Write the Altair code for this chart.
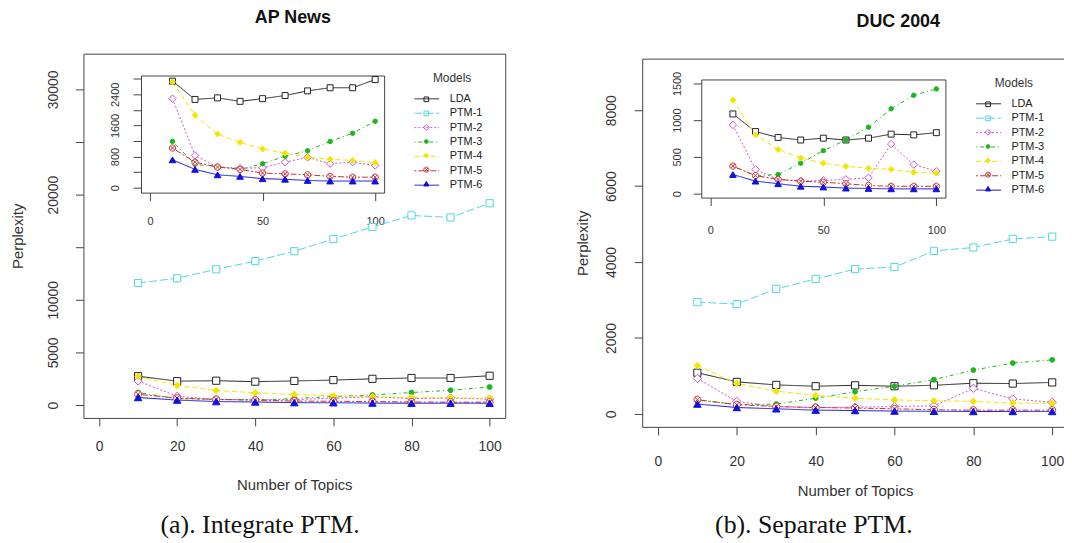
import altair as alt
import pandas as pd

TOPICS = [10, 20, 30, 40, 50, 60, 70, 80, 90, 100]
MODELS = ["LDA", "PTM-1", "PTM-2", "PTM-3", "PTM-4", "PTM-5", "PTM-6"]

# (a) AP News
AP_LDA = [2740, 2270, 2310, 2220, 2290, 2370, 2490, 2570, 2570, 2780]
AP_PTM1 = [11600, 12050, 12900, 13680, 14620, 15780, 16920, 18020, 17830, 19180]
AP_PTM2 = [2290, 830, 530, 505, 510, 655, 780, 615, 655, 570]
AP_PTM3 = [1190, 600, 540, 470, 615, 810, 950, 1190, 1400, 1710]
AP_PTM4 = [2720, 1860, 1380, 1165, 995, 885, 785, 730, 700, 645]
AP_PTM5 = [1020, 655, 530, 470, 375, 355, 330, 290, 270, 270]
AP_PTM6 = [715, 470, 330, 290, 230, 215, 185, 170, 170, 170]

# (b) DUC 2004
DUC_LDA = [1085, 845, 765, 730, 755, 730, 755, 810, 800, 830]
DUC_PTM1 = [2945, 2895, 3295, 3555, 3815, 3870, 4295, 4385, 4610, 4670]
DUC_PTM2 = [935, 330, 190, 170, 180, 195, 215, 675, 395, 305]
DUC_PTM3 = [370, 245, 260, 415, 585, 730, 905, 1155, 1340, 1425]
DUC_PTM4 = [1275, 800, 600, 485, 415, 370, 345, 330, 290, 280]
DUC_PTM5 = [375, 245, 195, 170, 155, 135, 110, 100, 100, 100]
DUC_PTM6 = [260, 170, 135, 100, 90, 75, 70, 65, 65, 65]

PANEL_TITLES = ["AP News", "DUC 2004"]
CAPTIONS = ["(a). Integrate PTM.", "(b). Separate PTM."]
X_TITLE = "Number of Topics"
Y_TITLE = "Perplexity"
LEGEND_TITLE = "Models"

COLORS = ["#222222", "#4FD8DC", "#CC55CC", "#1FB41F", "#F2E600", "#C83232", "#1010E0"]
FILLS = ["#ffffff", "#ffffff", "#ffffff", "#1FB41F", "#F2E600", "#ffffff", "#1010E0"]
CIRCLE_X = "M-1,0A1,1,0,1,1,1,0A1,1,0,1,1,-1,0ZM-0.7,-0.7L0.7,0.7M-0.7,0.7L0.7,-0.7"
SHAPES = ["square", "square", "diamond", "circle", "diamond", CIRCLE_X, "triangle-up"]
DASHES = [[1, 0], [8, 3], [2, 2], [1, 3, 4, 3], [5, 3], [2, 2, 6, 2], [1, 0]]
MAIN_SIZES = [52, 52, 70, 24, 44, 50, 56]
INSET_SIZES = [36, 36, 56, 20, 36, 40, 45]
KEY_SIZES = [22, 22, 34, 14, 24, 26, 28]
LEGEND_LINE = "M-2.5,0L2.5,0"

FONT = "Liberation Sans, Arial, sans-serif"
SERIF = "Liberation Serif, Times New Roman, serif"
W, H = 1064, 535


def make_df(series):
    rows = []
    for m, vals in zip(MODELS, series):
        for t, v in zip(TOPICS, vals):
            rows.append({"Topics": t, "Perplexity": v, "Model": m})
    return pd.DataFrame(rows)


df_a = make_df([AP_LDA, AP_PTM1, AP_PTM2, AP_PTM3, AP_PTM4, AP_PTM5, AP_PTM6])
df_b = make_df([DUC_LDA, DUC_PTM1, DUC_PTM2, DUC_PTM3, DUC_PTM4, DUC_PTM5, DUC_PTM6])
df_models = pd.DataFrame({"Model": MODELS})

# plot-box geometry (view pixels)
A_MAIN = dict(x0=76, x1=501, y0=44, y1=411, xd=[-4, 104], yd=[-1226, 33396])
A_IN = dict(x0=134, x1=379, y0=66, y1=184, xd=[-4, 104], yd=[-128, 2885])
B_MAIN = dict(x0=639, x1=1068, y0=49, y1=420, xd=[-4, 104], yd=[-340, 9359])
B_IN = dict(x0=698.5, x1=944.5, y0=70, y1=189, xd=[-4, 104], yd=[-54, 1554])

ROWPAD = 2.5
TPAD = 8
LEG_FS = 11


def sx(g):
    return alt.Scale(domain=g["xd"], range=[g["x0"], g["x1"]], nice=False, zero=False)


def sy(g):
    return alt.Scale(domain=g["yd"], range=[g["y1"], g["y0"]], nice=False, zero=False)


def line_legend(lx, ly):
    return alt.Legend(orient="none", legendX=lx, legendY=ly, title=LEGEND_TITLE,
                      symbolType=LEGEND_LINE, symbolSize=100, symbolStrokeWidth=1,
                      labelOffset=17.5, rowPadding=ROWPAD, titlePadding=TPAD, padding=0,
                      titleAnchor="middle", labelFontSize=LEG_FS, titleFontSize=12)


def lines(df, g, xaxis, yaxis, legend=None):
    return alt.Chart(df).mark_line(strokeWidth=1, opacity=1).encode(
        x=alt.X("Topics:Q", scale=sx(g), axis=xaxis),
        y=alt.Y("Perplexity:Q", scale=sy(g), axis=yaxis),
        color=alt.Color("Model:N", scale=alt.Scale(domain=MODELS, range=COLORS), legend=legend),
        strokeDash=alt.StrokeDash("Model:N", scale=alt.Scale(domain=MODELS, range=DASHES), legend=legend),
    )


def style_channels(sizes):
    return dict(
        shape=alt.Shape("Model:N", scale=alt.Scale(domain=MODELS, range=SHAPES), legend=None),
        stroke=alt.Stroke("Model:N", scale=alt.Scale(domain=MODELS, range=COLORS), legend=None),
        fill=alt.Fill("Model:N", scale=alt.Scale(domain=MODELS, range=FILLS), legend=None),
        size=alt.Size("Model:N", scale=alt.Scale(type="ordinal", domain=MODELS, range=sizes), legend=None),
    )


def points(df, g, sizes, xaxis, yaxis):
    return alt.Chart(df).mark_point(strokeWidth=1, opacity=1).encode(
        x=alt.X("Topics:Q", scale=sx(g), axis=xaxis),
        y=alt.Y("Perplexity:Q", scale=sy(g), axis=yaxis),
        **style_channels(sizes),
    )


def key_markers(xc, y_first, y_last):
    # markers of the legend keys, placed on the legend rows by a point scale
    return alt.Chart(df_models).mark_point(strokeWidth=1, opacity=1).encode(
        x=alt.value(xc),
        y=alt.Y("Model:N", scale=alt.Scale(type="point", domain=MODELS, range=[y_first, y_last], padding=0),
                axis=None),
        **style_channels(KEY_SIZES),
    )


def bottom_axis(g, values, fs, pad, title=None, title_y=None):
    kw = dict(orient="bottom", offset=-(H - g["y1"]), values=values, tickSize=8,
              labelPadding=pad, labelFontSize=fs, format="d")
    if title:
        kw.update(title=title, titleX=(g["x0"] + g["x1"]) / 2, titleY=title_y,
                  titleBaseline="middle", titleAlign="center", titleAngle=0, titleFontSize=15)
    else:
        kw.update(title=None)
    return alt.Axis(**kw)


def left_axis(g, values, fs, pad, label_expr=None, title=None, title_x=None):
    kw = dict(orient="left", offset=-g["x0"], values=values, tickSize=8,
              labelPadding=pad, labelFontSize=fs, format="d", labelAngle=-90,
              labelAlign="center", labelBaseline="bottom")
    if label_expr:
        kw.update(labelExpr=label_expr)
    if title:
        kw.update(title=title, titleX=title_x - g["x0"], titleY=(g["y0"] + g["y1"]) / 2,
                  titleBaseline="middle", titleAlign="center", titleAngle=-90, titleFontSize=15)
    else:
        kw.update(title=None)
    return alt.Axis(**kw)


def top_frame(g):
    return alt.Axis(orient="top", offset=-g["y0"], ticks=False, labels=False, title=None)


def right_frame(g):
    return alt.Axis(orient="right", offset=-(W - g["x1"]), ticks=False, labels=False, title=None)


X_MAIN_TICKS = [0, 20, 40, 60, 80, 100]
X_IN_TICKS = [0, 50, 100]

layers = []

# ---- panel (a) main
layers.append(lines(
    df_a, A_MAIN,
    bottom_axis(A_MAIN, X_MAIN_TICKS, 14, 14, X_TITLE, 67),
    left_axis(A_MAIN, [0, 5000, 10000, 15000, 20000, 25000, 30000], 14, 15,
              "datum.value == 15000 || datum.value == 25000 ? '' : datum.label", Y_TITLE, 10)))
layers.append(points(df_a, A_MAIN, MAIN_SIZES, top_frame(A_MAIN), right_frame(A_MAIN)))

# ---- panel (a) inset
df_a_in = df_a[df_a["Model"] != "PTM-1"]
layers.append(lines(
    df_a_in, A_IN,
    bottom_axis(A_IN, X_IN_TICKS, 11, 15),
    left_axis(A_IN, [0, 400, 800, 1200, 1600, 2000, 2400, 2800], 11, 12.5,
              "datum.value % 800 == 0 ? datum.label : ''"),
    line_legend(416.5, 64)))
layers.append(points(df_a_in, A_IN, INSET_SIZES, top_frame(A_IN), right_frame(A_IN)))
layers.append(key_markers(421.5, 90, 175))

# ---- panel (b) main
layers.append(lines(
    df_b, B_MAIN,
    bottom_axis(B_MAIN, X_MAIN_TICKS, 14, 20, X_TITLE, 64),
    left_axis(B_MAIN, [0, 2000, 4000, 6000, 8000], 14, 16, None, Y_TITLE, 579)))
layers.append(points(df_b, B_MAIN, MAIN_SIZES, top_frame(B_MAIN), None))

# ---- panel (b) inset
df_b_in = df_b[df_b["Model"] != "PTM-1"]
layers.append(lines(
    df_b_in, B_IN,
    bottom_axis(B_IN, X_IN_TICKS, 11, 19),
    left_axis(B_IN, [0, 500, 1000, 1500], 11, 11),
    line_legend(982.5, 69)))
layers.append(points(df_b_in, B_IN, INSET_SIZES, top_frame(B_IN), right_frame(B_IN)))
layers.append(key_markers(987.5, 95, 180))


def text_layer(label, x, y, size, weight, font):
    return alt.Chart(pd.DataFrame({"label": [label]})).mark_text(
        font=font, fontSize=size, fontWeight=weight, align="center", baseline="middle",
        color="#111111").encode(text="label:N", x=alt.value(x), y=alt.value(y))


layers.append(text_layer(PANEL_TITLES[0], 287, 8, 18, "bold", FONT))
layers.append(text_layer(PANEL_TITLES[1], 897, 12, 18, "bold", FONT))
layers.append(text_layer(CAPTIONS[0], 254, 519, 26, "normal", SERIF))
layers.append(text_layer(CAPTIONS[1], 812, 519, 26, "normal", SERIF))

chart = alt.layer(*layers).resolve_scale(
    x="independent", y="independent", color="independent", strokeDash="independent",
    shape="independent", stroke="independent", fill="independent", size="independent",
).properties(
    width=W, height=H, autosize=alt.AutoSizeParams(type="none"), padding=0,
).configure_view(stroke=None).configure_axis(
    labelFont=FONT, titleFont=FONT, labelColor="#333333", titleColor="#333333",
    tickColor="#444444", domainColor="#444444", grid=False, titleFontWeight="normal",
    labelFlush=False, labelOverlap=False,
).configure_legend(
    labelFont=FONT, titleFont=FONT, labelColor="#222222", titleColor="#333333",
    titleFontWeight="normal", labelLimit=200,
)

chart.save("out.html", embed_options={"renderer": "svg", "actions": False})
